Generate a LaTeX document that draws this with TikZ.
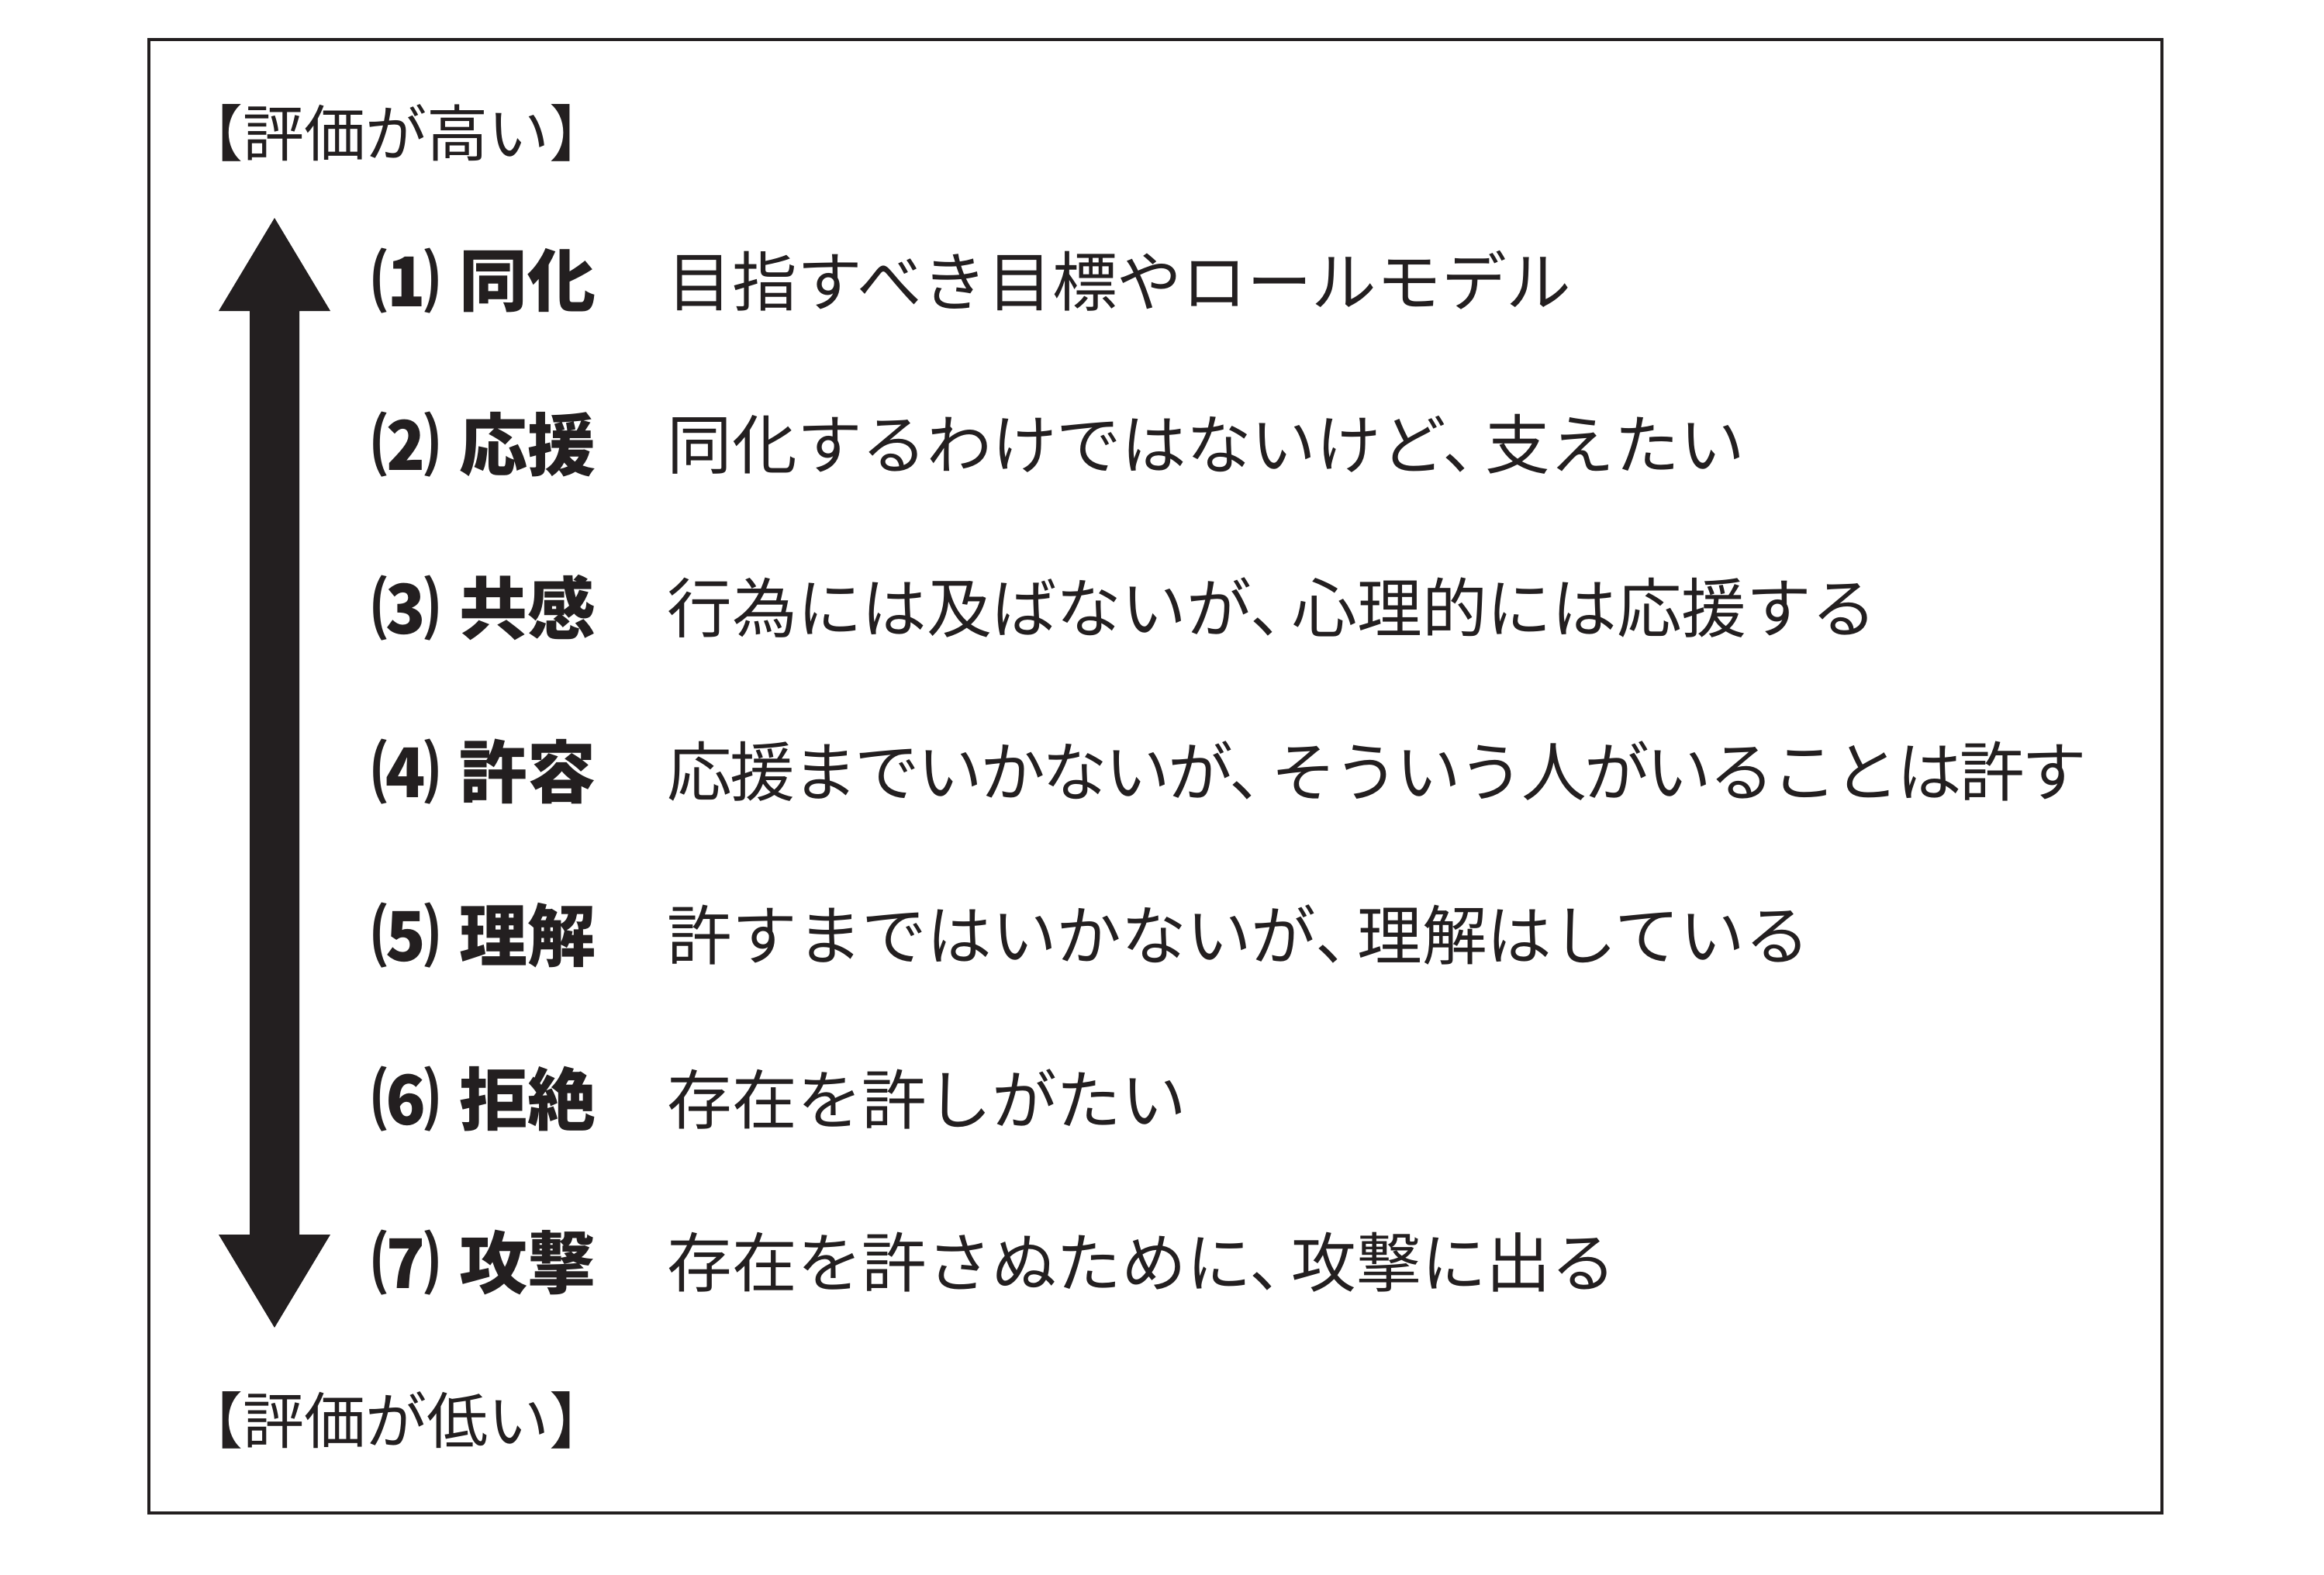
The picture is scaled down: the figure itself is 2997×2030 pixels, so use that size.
\documentclass[tikz,border=0pt]{standalone}
\usepackage{fontspec}
\usetikzlibrary{calc}
\setmainfont{Noto Sans CJK JP}
\definecolor{ink}{HTML}{231F20}
\newcommand{\touten}{、\kern-.35em}
\tikzset{
  num/.style={inner sep=0pt,text=ink,font=\fontsize{25}{30}\selectfont\bfseries},
  term/.style={anchor=west,inner sep=0pt,text=ink,font=\fontsize{25}{30}\selectfont\bfseries},
  desc/.style={anchor=west,inner sep=0pt,text=ink,font=\fontsize{23.8}{28}\selectfont},
  level/.style={inner sep=0pt,text=ink,font=\fontsize{22.5}{27}\selectfont}
}
\begin{document}
\begin{tikzpicture}[x=0.01cm,y=-0.01cm]
  \useasboundingbox (0,0) rectangle (2997,2030);
  \draw[ink,line width=0.045cm] (192,51) rectangle (2788,1951);

  \node[level] (high) at (511,171) {【評価が高い】};
  \node[level] (low) at (511,1831) {【評価が低い】};

  % double arrow from high to low
  \coordinate (top) at (354,281);
  \coordinate (bot) at (354,1712);
  \fill[ink] (top) -- ++(72,120) -- ++(-40,0) -- ($(bot)+(32,-120)$)
    -- ++(40,0) -- (bot) -- ++(-72,-120) -- ++(40,0)
    -- ($(top)+(-32,120)$) -- ++(-40,0) -- cycle;

  \foreach \i/\num/\term/\text/\track in {
    1/⑴/同化/目指すべき目標やロールモデル/0,
    2/⑵/応援/同化するわけではないけど\touten 支えたい/0,
    3/⑶/共感/行為には及ばないが\touten 心理的には応援する/0,
    4/⑷/許容/応援までいかないが\touten そういう人がいることは許す/-3.6,
    5/⑸/理解/許すまではいかないが\touten 理解はしている/0,
    6/⑹/拒絶/存在を許しがたい/0,
    7/⑺/攻撃/存在を許さぬために\touten 攻撃に出る/0}
  {
    \node[num] (n\i) at (523,{362+211*(\i-1)}) {\num};
    \node[term] (t\i) at (592,{362+211*(\i-1)}) {\term};
    \node[desc] (d\i) at (860,{362+211*(\i-1)}) {\addfontfeature{LetterSpace=\track}\text};
  }
\end{tikzpicture}
\end{document}
